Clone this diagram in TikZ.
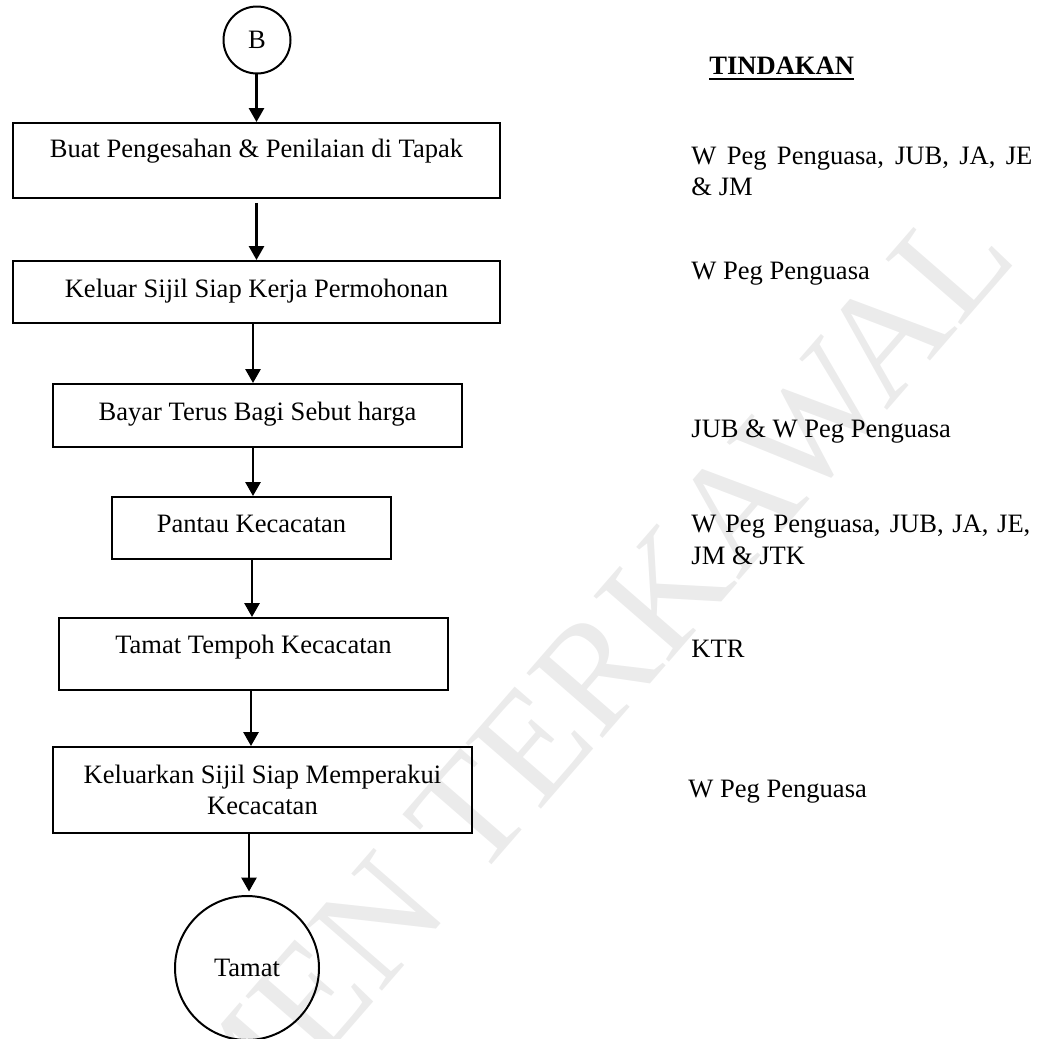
\documentclass[tikz,border=0pt]{standalone}
\usepackage{fontspec}
\setmainfont{Liberation Serif}
\usetikzlibrary{arrows.meta}
\def\U{0.452pt}
\begin{document}
\begin{tikzpicture}[x=0.452pt,y=-0.452pt,
  font=\fontsize{12}{14.3}\selectfont,
  box/.style={draw, line width=0.9pt, inner sep=0pt, anchor=north},
  circ/.style={draw, circle, line width=0.9pt, inner sep=0pt},
  arr/.style={line width=1.15pt, -{Triangle[width=6.8pt,length=6.3pt]}},
  act/.style={anchor=base west, inner sep=0pt},
  wmark/.style={text=black!8, font=\fontsize{69}{69}\selectfont, inner sep=0pt}]

\useasboundingbox (0,0) rectangle (1053,1038);

% watermark
\begin{scope}
\clip (0,0) rectangle (1053,1038);
\node[wmark, rotate=49, anchor=base east] (wm) at (1020,258) {DOKUMEN TERKAWAL};
\end{scope}

% flow
\node[circ, minimum size=67*\U] (B) at (257,40) {B};
\node[box, minimum width=487*\U, text height=35*\U, text depth=40*\U] (b1) at (256.5,122) {Buat Pengesahan \& Penilaian di Tapak};
\node[box, minimum width=487*\U, text height=36*\U, text depth=26*\U] (b2) at (256.5,260) {Keluar Sijil Siap Kerja Permohonan};
\node[box, minimum width=409*\U, text height=36*\U, text depth=27*\U] (b3) at (257.5,383) {Bayar Terus Bagi Sebut harga};
\node[box, minimum width=279*\U, text height=35*\U, text depth=27*\U] (b4) at (251.5,496) {Pantau Kecacatan};
\node[box, minimum width=389*\U, text height=35*\U, text depth=37*\U] (b5) at (253.5,617) {Tamat Tempoh Kecacatan};
\node[box, minimum width=419*\U, minimum height=86*\U, align=center] (b6) at (262.5,746) {Keluarkan Sijil Siap Memperakui\\Kecacatan};
\node[circ, minimum size=144*\U] (T) at (247,968) {Tamat};

\coordinate (x1) at (256.5,0);
\coordinate (x2) at (253,0);
\coordinate (x4) at (252,0);
\coordinate (x5) at (251,0);
\coordinate (x6) at (249,0);

\draw[arr] (B.south -| x1) -- (b1.north -| x1);
\draw[arr, shorten <=1.8pt] (b1.south -| x1) -- (b2.north -| x1);
\draw[arr] (b2.south -| x2) -- (b3.north -| x2);
\draw[arr] (b3.south -| x2) -- (b4.north -| x2);
\draw[arr] (b4.south -| x4) -- (b5.north -| x4);
\draw[arr] (b5.south -| x5) -- (b6.north -| x5);
\draw[arr, shorten >=1.6pt] (b6.south -| x6) -- (T.north -| x6);

% actions
\node[act, font=\fontsize{12}{14.3}\selectfont\bfseries] (tind) at (709,74) {TINDAKAN};
\draw[line width=1.1pt] ([yshift=-2.2pt]tind.base west) -- ([yshift=-2.2pt]tind.base east);

\node[act] (a1) at (691,164) {\parbox[t]{154.1pt}{\makebox[154.1pt][s]{W Peg Penguasa, JUB, JA, JE}\\\& JM}};
\node[act] (a2) at (691,279) {W Peg Penguasa};
\node[act] (a3) at (691,437) {JUB \& W Peg Penguasa};
\node[act] (a4) at (691,532.6) {\parbox[t]{153.2pt}{\makebox[153.2pt][s]{W Peg Penguasa, JUB, JA, JE,}\\JM \& JTK}};
\node[act] (a5) at (691,657.5) {KTR};
\node[act] (a6) at (688,797) {W Peg Penguasa};
\end{tikzpicture}
\end{document}
